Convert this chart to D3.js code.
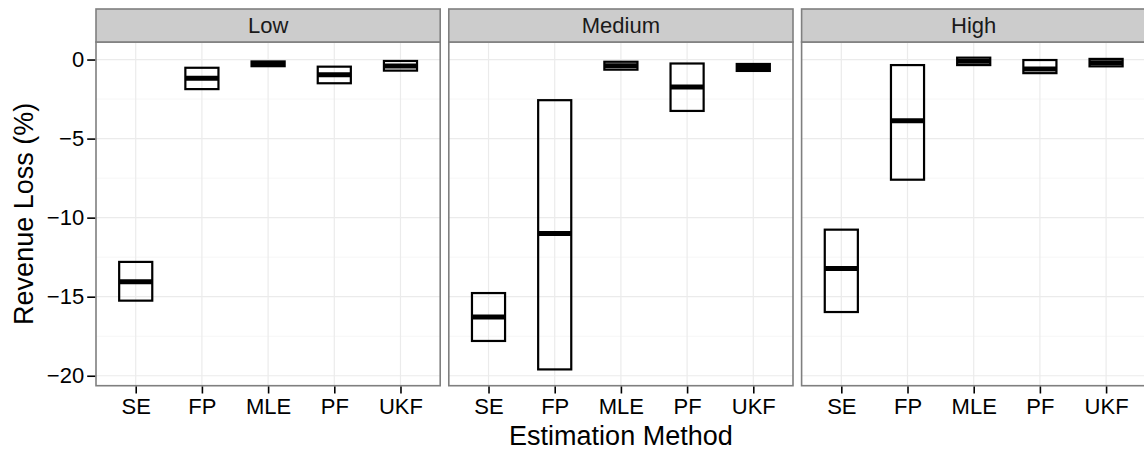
<!DOCTYPE html>
<meta charset="utf-8">
<script src="https://d3js.org/d3.v7.min.js"></script>
<style>
  body { margin: 0; background: #fff; }
  svg { font-family: "Liberation Sans", Arial, Helvetica, sans-serif; }
  .grid-major line { stroke: #ebebeb; stroke-width: 1.2px; }
  .grid-minor line { stroke: #f6f6f6; stroke-width: 1px; }
  .axis path { display: none; }
  .axis line { stroke: #000; stroke-width: 1.6px; }
  .axis text { fill: #000; font-size: 22px; }
  .box { fill: none; stroke: #000; stroke-width: 2.2px; }
  .median { stroke: #000; stroke-width: 5px; }
</style>
<div id="chart"></div>
<script>
// categories
var methods = ["SE", "FP", "MLE", "PF", "UKF"];
var levels = ["Low", "Medium", "High"];
var yTicks = [0, -5, -10, -15, -20];
var yMinor = [-2.5, -7.5, -12.5, -17.5];

// crossbar values (min / middle / max) per level, one entry per method
var lowMin  = [-15.25, -1.87, -0.42, -1.50, -0.70];
var lowMid  = [-14.06, -1.19, -0.27, -0.96, -0.41];
var lowMax  = [-12.80, -0.52, -0.12, -0.45, -0.09];
var medMin  = [-17.80, -19.60, -0.64, -3.25, -0.72];
var medMid  = [-16.28, -11.00, -0.39, -1.74, -0.50];
var medMax  = [-14.77, -2.57, -0.14, -0.25, -0.28];
var highMin = [-15.97, -7.60, -0.35, -0.86, -0.43];
var highMid = [-13.22, -3.87, -0.11, -0.60, -0.20];
var highMax = [-10.76, -0.35, 0.12, -0.03, 0.04];

var mins = [lowMin, medMin, highMin],
    mids = [lowMid, medMid, highMid],
    maxs = [lowMax, medMax, highMax];

var W = 1144, H = 452;
var left = 96, panelW = 344.2, gap = 8.6,
    stripTop = 9, stripH = 33, panelTop = 42, panelBottom = 385.7;

var svg = d3.select("#chart").append("svg")
    .attr("width", W)
    .attr("height", H);

var y = d3.scaleLinear()
    .domain([-20.63, 1.11])
    .range([panelBottom, panelTop]);

var x = d3.scalePoint()
    .domain(methods)
    .range([0, panelW])
    .padding(0.6);
var boxW = x.step() * 0.5;

levels.forEach(function(level, i) {
  var px = left + i * (panelW + gap);
  var g = svg.append("g").attr("transform", "translate(" + px + ",0)");

  // panel background
  g.append("rect")
    .attr("x", 0).attr("y", panelTop)
    .attr("width", panelW).attr("height", panelBottom - panelTop)
    .attr("fill", "#fff");

  // minor grid
  g.append("g").attr("class", "grid-minor")
    .selectAll("line").data(yMinor).enter().append("line")
    .attr("x1", 0).attr("x2", panelW)
    .attr("y1", function(d) { return y(d); })
    .attr("y2", function(d) { return y(d); });

  // major grid
  var gm = g.append("g").attr("class", "grid-major");
  gm.selectAll("line.h").data(yTicks).enter().append("line")
    .attr("class", "h")
    .attr("x1", 0).attr("x2", panelW)
    .attr("y1", function(d) { return y(d); })
    .attr("y2", function(d) { return y(d); });
  gm.selectAll("line.v").data(methods).enter().append("line")
    .attr("class", "v")
    .attr("x1", function(d) { return x(d); })
    .attr("x2", function(d) { return x(d); })
    .attr("y1", panelTop).attr("y2", panelBottom);

  // crossbars
  var rows = methods.map(function(m, j) {
    return { m: m, lo: mins[i][j], mid: mids[i][j], hi: maxs[i][j] };
  });
  g.selectAll("rect.box").data(rows).enter().append("rect")
    .attr("class", "box")
    .attr("x", function(d) { return x(d.m) - boxW / 2; })
    .attr("y", function(d) { return y(d.hi); })
    .attr("width", boxW)
    .attr("height", function(d) { return y(d.lo) - y(d.hi); });
  g.selectAll("line.median").data(rows).enter().append("line")
    .attr("class", "median")
    .attr("x1", function(d) { return x(d.m) - boxW / 2; })
    .attr("x2", function(d) { return x(d.m) + boxW / 2; })
    .attr("y1", function(d) { return y(d.mid); })
    .attr("y2", function(d) { return y(d.mid); });

  // panel border
  g.append("rect")
    .attr("x", 0).attr("y", panelTop)
    .attr("width", panelW).attr("height", panelBottom - panelTop)
    .attr("fill", "none").attr("stroke", "#7f7f7f").attr("stroke-width", 1.6);

  // strip
  g.append("rect")
    .attr("x", 0).attr("y", stripTop)
    .attr("width", panelW).attr("height", stripH)
    .attr("fill", "#cccccc").attr("stroke", "#7f7f7f").attr("stroke-width", 1.6);
  g.append("text")
    .attr("x", panelW / 2).attr("y", stripTop + stripH / 2)
    .attr("dy", "0.36em")
    .attr("text-anchor", "middle")
    .style("font-size", "22px")
    .style("fill", "#1a1a1a")
    .text(level);

  // x axis
  g.append("g").attr("class", "axis")
    .attr("transform", "translate(0," + (panelBottom + 0.8) + ")")
    .call(d3.axisBottom(x).tickSize(7).tickPadding(5));
});

// y axis
svg.append("g").attr("class", "axis")
  .attr("transform", "translate(" + (left - 0.8) + ",0)")
  .call(d3.axisLeft(y).tickValues(yTicks).tickSize(8).tickPadding(3));

// axis titles
svg.append("text")
  .attr("x", left + (3 * panelW + 2 * gap) / 2)
  .attr("y", 445)
  .attr("text-anchor", "middle")
  .style("font-size", "27px")
  .text("Estimation Method");

svg.append("text")
  .attr("transform", "translate(33," + ((panelTop + panelBottom) / 2) + ")rotate(-90)")
  .attr("text-anchor", "middle")
  .style("font-size", "27px")
  .text("Revenue Loss (%)");
</script>
